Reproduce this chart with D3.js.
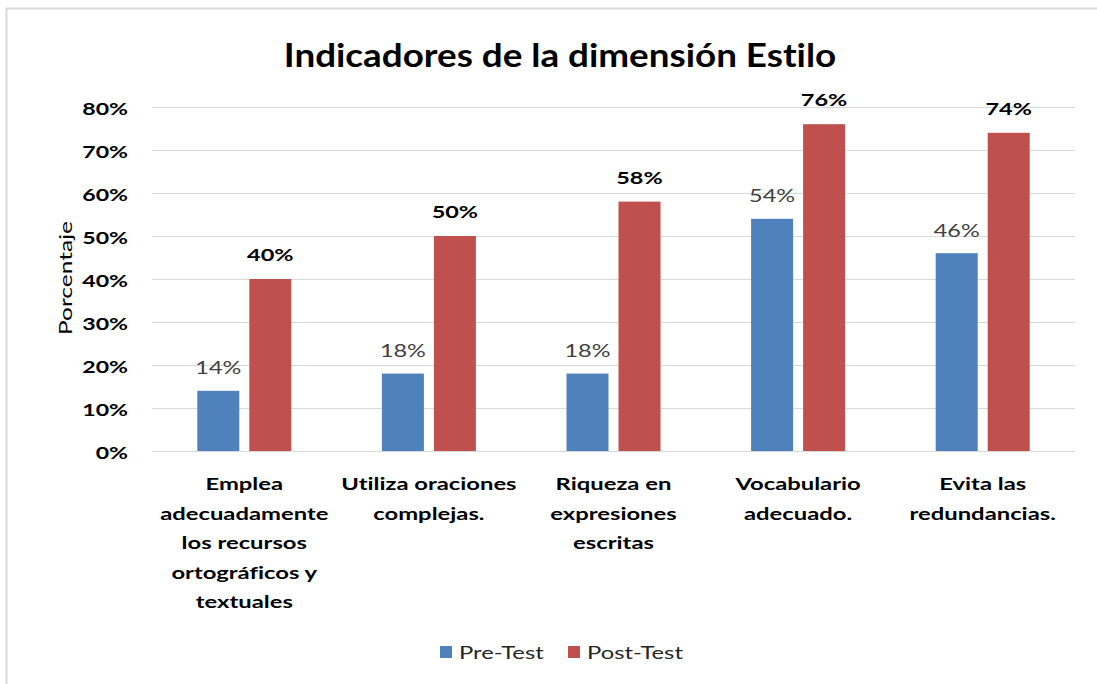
<!DOCTYPE html>
<html>
<head>
<meta charset="utf-8">
<script src="https://cdn.jsdelivr.net/npm/d3@7"></script>
<style>
  body { margin: 0; background: #fff; }
  text { font-family: Lato, "Open Sans", sans-serif; font-variant-ligatures: none; }
</style>
</head>
<body>
<svg id="chart" width="1097" height="684"></svg>
<script>
// data
var categories = [
  ["Emplea", "adecuadamente", "los recursos", "ortográficos y", "textuales"],
  ["Utiliza oraciones", "complejas."],
  ["Riqueza en", "expresiones", "escritas"],
  ["Vocabulario", "adecuado."],
  ["Evita las", "redundancias."]
];
var series = ["Pre-Test", "Post-Test"];
var preTest = [14, 18, 18, 54, 46];
var postTest = [40, 50, 58, 76, 74];
var yTicks = [0, 10, 20, 30, 40, 50, 60, 70, 80];
var colors = ["#4f81bd", "#c0504d"];

var svg = d3.select("#chart");
var plotLeft = 152, plotRight = 1075, plotTop = 107, plotBottom = 451;

// text in the reference is drawn wide, so stretch it
function stretch(sel, k) {
  sel.each(function() {
    var w = this.getComputedTextLength();
    d3.select(this).attr("textLength", w * k).attr("lengthAdjust", "spacingAndGlyphs");
  });
}

// outer border
svg.append("rect")
  .attr("x", 6.5).attr("y", 8.5)
  .attr("width", 1200).attr("height", 800)
  .attr("fill", "none").attr("stroke", "#d9d9d9").attr("stroke-width", 2);

var x0 = d3.scaleBand().domain(d3.range(categories.length)).range([plotLeft, plotRight]);
var x1 = d3.scaleBand().domain(series).range([0, 94]).paddingInner(0.1923);
var y = d3.scaleLinear().domain([0, 80]).range([plotBottom, plotTop]);

// gridlines
svg.append("g").selectAll("line")
  .data(yTicks)
  .enter().append("line")
    .attr("x1", plotLeft).attr("x2", plotRight)
    .attr("y1", d => Math.round(y(d)) + 0.5)
    .attr("y2", d => Math.round(y(d)) + 0.5)
    .attr("stroke", "#d9d9d9").attr("stroke-width", 1.2);

// y axis labels
var yAxis = svg.append("g")
  .attr("transform", "translate(" + plotLeft + ",0)")
  .call(d3.axisLeft(y).tickValues(yTicks).tickSize(0).tickPadding(24).tickFormat(d => d + "%"));
yAxis.select(".domain").remove();
yAxis.selectAll("text")
  .attr("dy", "0.45em")
  .style("font-family", "Lato, sans-serif")
  .style("font-size", "17px")
  .style("font-weight", "bold")
  .attr("fill", "#000");
stretch(yAxis.selectAll("text"), 1.36);

// axis title
var yt = svg.append("text")
  .attr("transform", "translate(72,278) rotate(-90)")
  .attr("text-anchor", "middle")
  .style("font-size", "18px")
  .attr("fill", "#000")
  .text("Porcentaje");
stretch(yt, 1.36);

// bars
var groups = svg.append("g").selectAll("g")
  .data(categories.map((c, i) => ({ i: i, vals: [preTest[i], postTest[i]] })))
  .enter().append("g")
    .attr("transform", d => "translate(" + (x0(d.i) + (x0.bandwidth() - 94) / 2) + ",0)");

groups.selectAll("rect")
  .data(d => d.vals.map((v, j) => ({ s: series[j], j: j, v: v })))
  .enter().append("rect")
    .attr("x", d => x1(d.s))
    .attr("y", d => y(d.v))
    .attr("width", x1.bandwidth())
    .attr("height", d => plotBottom - y(d.v))
    .attr("fill", d => colors[d.j]);

var labels = groups.selectAll("text")
  .data(d => d.vals.map((v, j) => ({ s: series[j], j: j, v: v })))
  .enter().append("text")
    .attr("x", d => x1(d.s) + x1.bandwidth() / 2)
    .attr("y", d => y(d.v) - (d.j ? 18 : 16.5))
    .attr("text-anchor", "middle")
    .style("font-size", "17.5px")
    .style("font-weight", d => d.j ? "bold" : "normal")
    .attr("fill", d => d.j ? "#000" : "#404040")
    .text(d => d.v + "%");
stretch(labels, 1.34);

// category labels
var cat = svg.append("g").selectAll("text")
  .data(categories)
  .enter().append("text")
    .attr("text-anchor", "middle")
    .style("font-size", "17.5px")
    .style("font-weight", "bold")
    .attr("fill", "#000");
cat.selectAll("tspan")
  .data((d, i) => d.map(t => ({ t: t, i: i })))
  .enter().append("tspan")
    .attr("x", d => x0(d.i) + x0.bandwidth() / 2)
    .attr("y", (d, k) => 490 + k * 29.5)
    .text(d => d.t);
stretch(cat.selectAll("tspan"), 1.36);

// title
var title = svg.append("text")
  .attr("x", 560).attr("y", 67)
  .attr("text-anchor", "middle")
  .style("font-size", "32px")
  .style("font-weight", "bold")
  .attr("fill", "#000")
  .text("Indicadores de la dimensión Estilo");
stretch(title, 1.15);

// legend
var legendX = [440, 568];
var legend = svg.append("g").selectAll("g")
  .data(series)
  .enter().append("g")
    .attr("transform", (d, i) => "translate(" + legendX[i] + ",646)");
legend.append("rect")
  .attr("width", 12).attr("height", 12)
  .attr("fill", (d, i) => colors[i]);
var lt = legend.append("text")
  .attr("x", 19).attr("y", 13)
  .style("font-size", "17.5px")
  .attr("fill", "#262626")
  .text(d => d);
stretch(lt, 1.36);
</script>
</body>
</html>
